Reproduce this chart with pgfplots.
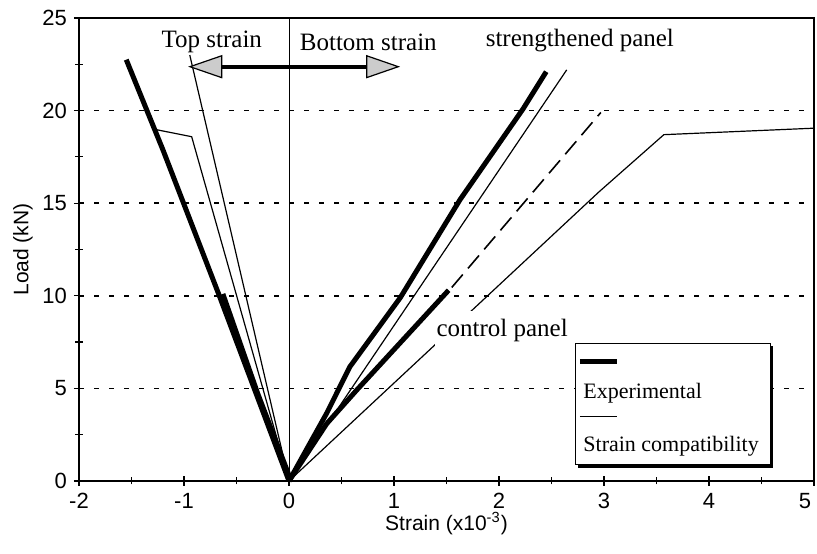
\documentclass[border=0pt]{standalone}
\usepackage{fontspec}
\setmainfont{Liberation Serif}
\setsansfont{Liberation Sans}
\usepackage{pgfplots}
\pgfplotsset{compat=1.18}
\begin{document}
\begin{tikzpicture}
\begin{axis}[
  scale only axis, width=367.5pt, height=231.5pt,
  xmin=-2, xmax=5, ymin=0, ymax=25,
  xtick={-2,-1,0,1,2,3,4,5}, ytick={0,5,10,15,20,25},
  xticklabels={-2,-1,0,1,2,3,4,\makebox[0pt][r]{5\hspace{1.5pt}}},
  minor x tick num=1, minor y tick num=1,
  xtick pos=left, ytick pos=left,
  tick align=center,
  major tick length=5pt, minor tick length=3.5pt,
  every tick/.style={black, line width=0.6pt},
  axis line style={line width=0.8pt},
  ymajorgrids,
  major grid style={black, line width=0.8pt, dash pattern=on 2.5pt off 5pt},
  tick label style={font=\sffamily\fontsize{11}{12}\selectfont},
  /pgf/number format/assume math mode=true,
  xlabel={Strain (x10\textsuperscript{-3})},
  ylabel={Load (kN)},
  label style={font=\sffamily\fontsize{10.5}{12}\selectfont},
  xlabel style={yshift=5pt},
  ylabel style={yshift=-2pt},
  clip=false,
]
% vertical zero line
\addplot[black, line width=0.5pt] coordinates {(0,0) (0,25)};
% ---- experimental (thick) ----
\addplot[black, line width=2.5pt] coordinates {(0,0) (0.36,3.67) (0.58,6.17) (1.06,9.9) (1.63,15.2) (2.23,20.1) (2.45,22.1)};
\addplot[black, line width=2.5pt] coordinates {(0,0) (0.36,3.1) (0.645,4.91) (1.52,10.3)};
\addplot[black, line width=2.5pt] coordinates {(0,0) (-0.66,9.95) (-1.2,17.87) (-1.55,22.75)};
\addplot[black, line width=2.5pt] coordinates {(0,0.3) (-0.3,4.75) (-0.63,10.1)};
% ---- strain compatibility (thin) ----
\addplot[black, line width=0.6pt] coordinates {(0,0) (2.645,22.2)};
\addplot[black, line width=0.6pt] coordinates {(0,0) (2.95,15.6) (3.57,18.7) (5,19.05)};
\addplot[black, line width=0.6pt] coordinates {(0,0) (-0.945,23.0)};
\addplot[black, line width=0.6pt] coordinates {(0,0) (-0.927,18.59) (-1.29,19.0)};
% dashed control extension
\addplot[black, line width=0.8pt, dash pattern=on 8.5pt off 4pt] coordinates {(1.55,10.45) (2.97,19.9)};

% annotations
\node[fill=white, inner xsep=1pt, inner ysep=4pt, font=\fontsize{12.5}{14}\selectfont] at (axis cs:2.03,8.15) {control panel};
\node[font=\fontsize{12.5}{14}\selectfont] at (axis cs:-0.735,23.7) {Top strain};
\node[font=\fontsize{12.5}{14}\selectfont] at (axis cs:0.755,23.7) {Bottom strain};
\node[font=\fontsize{12.5}{14}\selectfont] at (axis cs:2.77,23.8) {strengthened panel};
% double arrow
\draw[line width=2pt] (axis cs:-0.641,22.37) -- (axis cs:0.74,22.37);
\draw[fill=gray!40, line width=0.6pt] (axis cs:-0.943,22.37) -- (axis cs:-0.641,22.96) -- (axis cs:-0.641,21.78) -- cycle;
\draw[fill=gray!40, line width=0.6pt] (axis cs:1.041,22.37) -- (axis cs:0.74,22.96) -- (axis cs:0.74,21.78) -- cycle;
% legend box
\fill[black] ([shift={(1.3pt,-1.3pt)}]axis cs:2.724,7.45) rectangle ([shift={(1.3pt,-1.3pt)}]axis cs:4.581,0.864);
\draw[fill=white, line width=0.5pt] (axis cs:2.724,7.45) rectangle (axis cs:4.581,0.864);
\draw[line width=2.5pt] (axis cs:2.771,6.44) -- (axis cs:3.124,6.44);
\node[anchor=west, inner sep=0pt, font=\fontsize{11}{13}\selectfont] at (axis cs:2.80,4.75) {Experimental};
\draw[line width=0.6pt] (axis cs:2.771,3.47) -- (axis cs:3.124,3.47);
\node[anchor=west, inner sep=0pt, font=\fontsize{11}{13}\selectfont] at (axis cs:2.80,1.85) {Strain compatibility};
\end{axis}
\pgfresetboundingbox
\path[use as bounding box] ([shift={(-39.5pt,-36.5pt)}]current axis.south west) rectangle ([shift={(1.5pt,9pt)}]current axis.north east);
\end{tikzpicture}
\end{document}
